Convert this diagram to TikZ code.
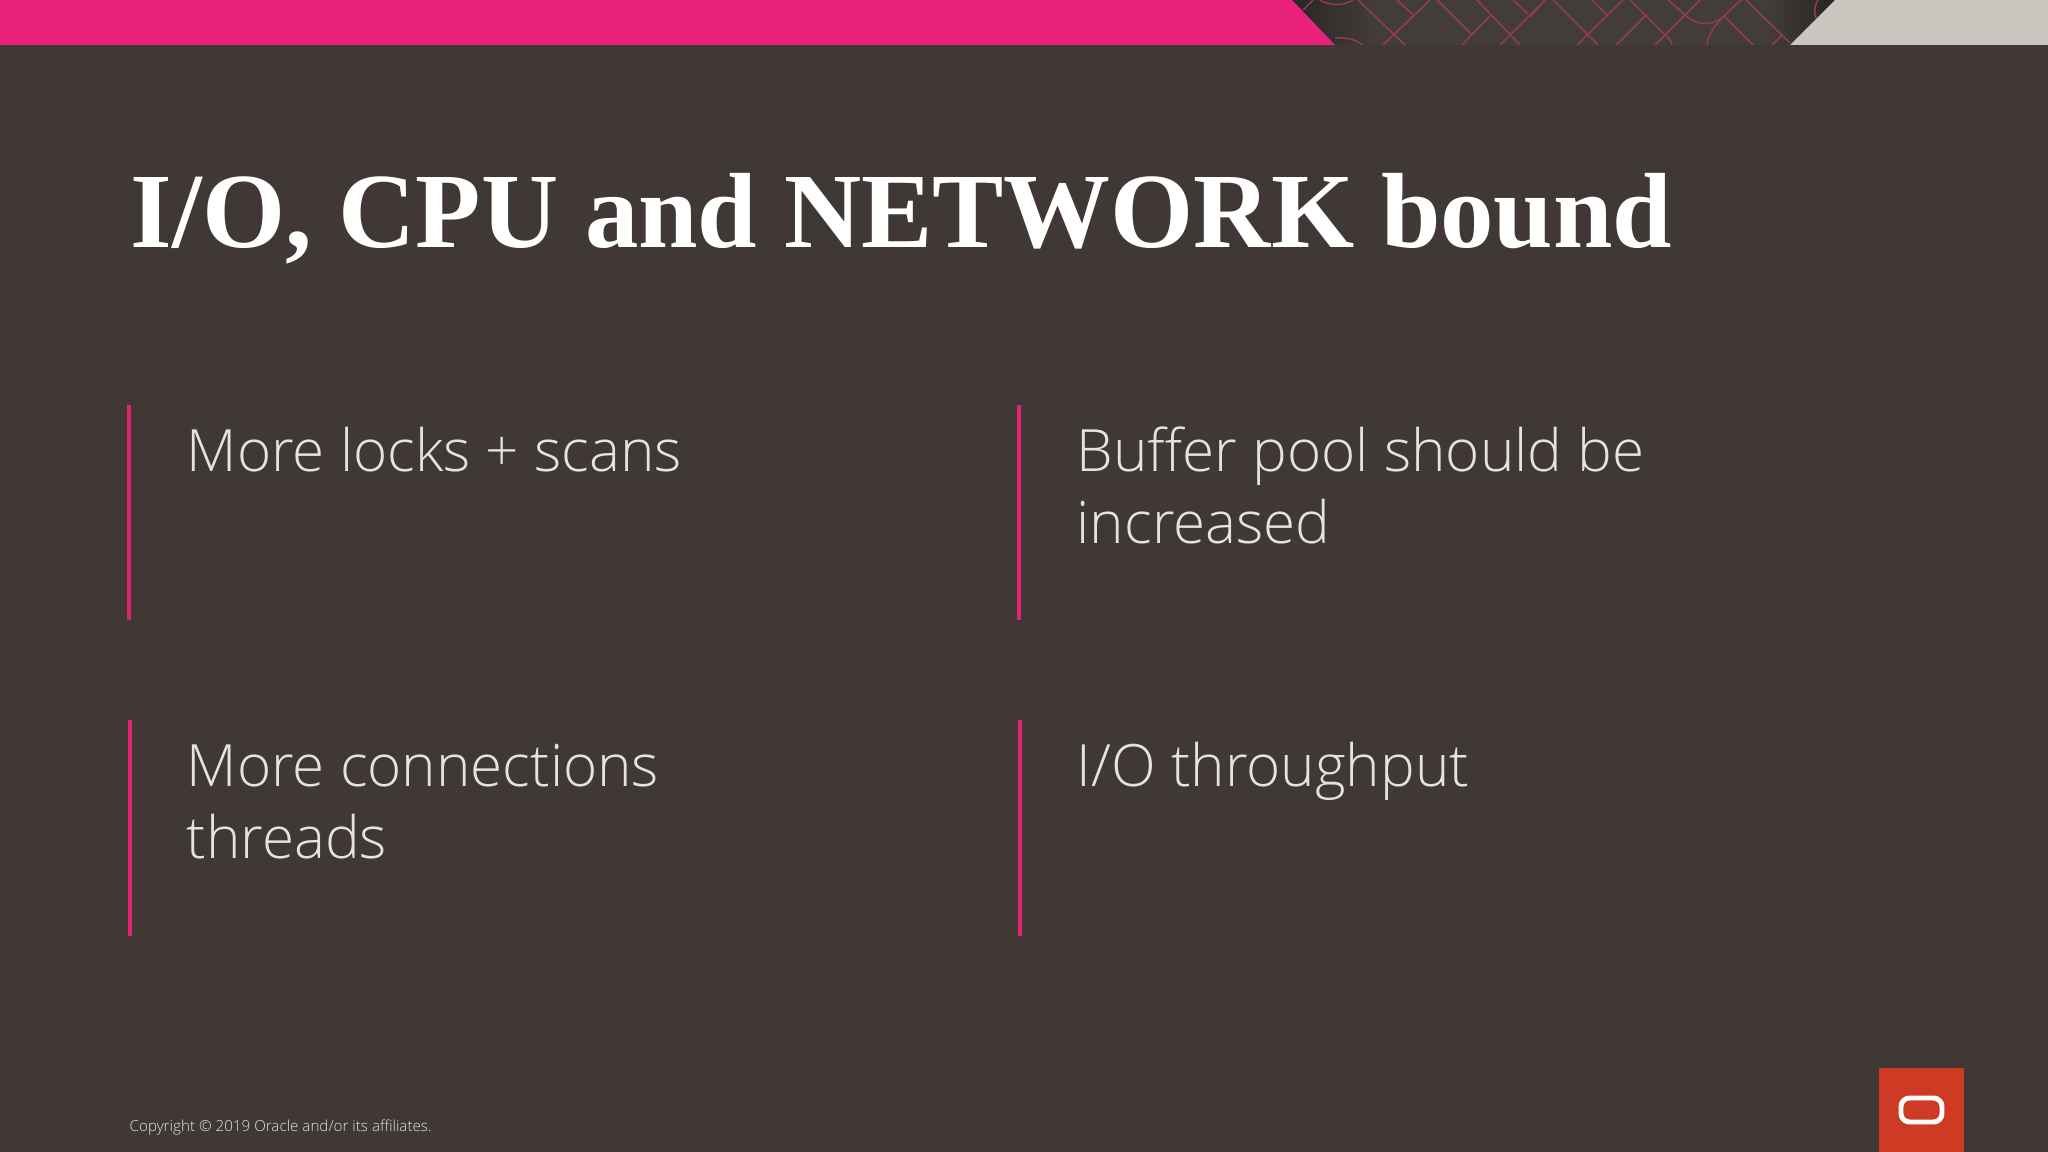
\documentclass[tikz,border=0pt]{standalone}
\usepackage{fontspec}
\setmainfont{Open Sans Light}
\newfontfamily\titlefont{Liberation Serif}
\definecolor{slidebg}{HTML}{3F3835}
\definecolor{barpink}{HTML}{EA2279}
\definecolor{barstone}{HTML}{CBC6C0}
\definecolor{textstone}{HTML}{E6E2DD}
\definecolor{logored}{HTML}{CF3A24}
\definecolor{meshred}{HTML}{9A3A58}
\definecolor{meshbg}{HTML}{423D39}
\definecolor{meshdark}{HTML}{282524}
\tikzset{
	point/.style={anchor=north west, align=left, inner sep=0pt, text=textstone,
		font=\fontsize{16.6}{20.5}\selectfont},
	rule/.style={barpink!95!slidebg, line width=1.2pt},
	mesh/.style={meshred, line width=0.4pt}
}
\begin{document}
\begin{tikzpicture}[x=0.01cm, y=-0.01cm]
	\useasboundingbox (0, 0) rectangle (2048, 1152);
	\fill[slidebg] (0, 0) rectangle (2048, 1152);

	% top band
	\begin{scope}
		\clip (1290, 0) -- (1335, 45) -- (1790, 45) -- (1835, 0) -- cycle;
		\fill[meshbg] (1290, 0) rectangle (1835, 45);
		\shade[left color=meshdark, right color=meshbg] (1290, 0) rectangle (1375, 45);
		\shade[left color=meshbg, right color=meshdark] (1765, 0) rectangle (1835, 45);
		\foreach \xa/\ya/\xb/\yb in {1358/0/1405/45, 1397/0/1413/15, 1430/0/1383/45, 1437/0/1472/35,
			1491/15/1462/45, 1477/0/1520/45, 1540/5/1500/45, 1513/0/1528/14, 1313/0/1303/10,
			1545/0/1530/17, 1553/0/1598/45, 1592/0/1607/15, 1623/0/1577/45, 1630/0/1665/35,
			1647/14/1616/45, 1700/0/1655/45, 1668/0/1685/15, 1741/0/1723/17, 1725/17/1753/45,
			1746/0/1790/43, 1782/35/1772/45}
			\draw[mesh] (\xa, \ya) -- (\xb, \yb);
		\draw[mesh] (1320, 0) .. controls (1330, 6) and (1343, 6) .. (1353, 0);
		\draw[mesh] (1335, 38) .. controls (1345, 37) and (1355, 39) .. (1363, 45);
		\draw[mesh] (1665, 35) .. controls (1669, 38) and (1671, 41) .. (1672, 45);
		\draw[mesh] (1685, 15) .. controls (1697, 26) and (1712, 26) .. (1723, 17);
		\draw[mesh] (1723, 17) .. controls (1713, 27) and (1708, 36) .. (1707, 45);
		\draw[mesh] (1818, 0) .. controls (1814, 6) and (1814, 12) .. (1816, 18);
	\end{scope}
	\fill[barpink] (0, 0) -- (1292, 0) -- (1335, 45) -- (0, 45) -- cycle;
	\fill[barstone] (1835, 0) -- (2048, 0) -- (2048, 45) -- (1790, 45) -- cycle;

	% title
	\node[anchor=west, inner sep=0pt, text=white, font=\titlefont\bfseries\fontsize{30.4}{36}\selectfont] (title) at (130, 219) {I/O, CPU and NETWORK bound};

	% four points
	\draw[rule] (129, 405) -- (129, 620);
	\node[point] (locks) at (186, 426) {More locks + scans};
	\draw[rule] (1019, 405) -- (1019, 620);
	\node[point] (buffer) at (1076, 426) {Buffer pool should be\\increased};
	\draw[rule] (130, 720) -- (130, 936);
	\node[point] (conn) at (186, 743) {More connections\\threads};
	\draw[rule] (1020, 720) -- (1020, 936);
	\node[point] (io) at (1076, 741) {I/O throughput};

	% footer
	\node[anchor=west, inner sep=0pt, text=textstone, font=\fontsize{4.32}{6}\selectfont] (copy) at (129, 1128) {Copyright © 2019 Oracle and/or its affiliates.};
	\fill[logored] (1879, 1068) rectangle (1964, 1152);
	\draw[white, line width=1.4pt, rounded corners=0.085cm] (1901, 1098) rectangle (1942, 1122);
\end{tikzpicture}
\end{document}
